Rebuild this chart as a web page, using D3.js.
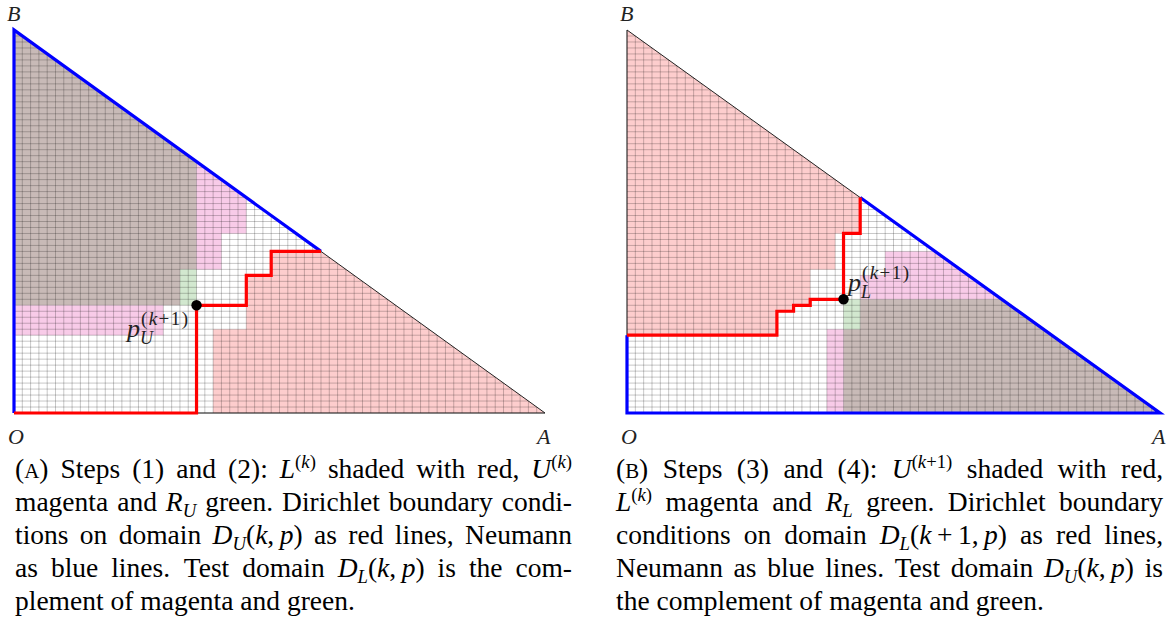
<!DOCTYPE html>
<html>
<head>
<meta charset="utf-8">
<script src="https://cdn.jsdelivr.net/npm/d3@7"></script>
<style>
  body { margin: 0; background: #fff; }
  text { font-family: "Liberation Serif", "Times New Roman", serif; }
</style>
</head>
<body>
<svg id="fig" width="1168" height="622"></svg>
<script>
// grid size: the triangle O-A-B is cut into 64 x 64 cells
var gridSize = 64;

// panel (A): steps (1) and (2)
var redFillA = [[[24, 0], [64, 0], [37, 27], [31, 27], [31, 23], [28, 23], [28, 14], [24, 14]]];
var brownFillA = [[[0, 18], [20, 18], [20, 24], [22, 24], [22, 42], [0, 64]]];
var magentaFillA = [[[22, 24], [25, 24], [25, 30], [28, 30], [28, 36], [22, 42]],
                    [[0, 13], [18, 13], [18, 18], [0, 18]]];
var greenFillA = [[[20, 18], [22, 18], [22, 24], [20, 24]]];
var dirichletA = [[0, 0], [22, 0], [22, 18], [28, 18], [28, 23], [31, 23], [31, 27], [37, 27]];
var neumannA = [[0, 0], [0, 64], [37, 27]];
var pointA = [22, 18];

// panel (B): steps (3) and (4)
var redFillB = [[[0, 13], [18, 13], [18, 17], [20, 17], [20, 18], [22, 18], [22, 24], [25, 24], [25, 30], [28, 30], [28, 36], [0, 64]]];
var brownFillB = [[[26, 0], [64, 0], [45, 19], [28, 19], [28, 14], [26, 14]]];
var magentaFillB = [[[28, 19], [45, 19], [37, 27], [31, 27], [31, 23], [28, 23]],
                    [[24, 0], [26, 0], [26, 14], [24, 14]]];
var greenFillB = [[[26, 14], [28, 14], [28, 19], [26, 19]]];
var dirichletB = [[0, 13], [18, 13], [18, 17], [20, 17], [20, 18], [22, 18], [22, 19], [26, 19], [26, 30], [28, 30], [28, 36]];
var neumannB = [[0, 13], [0, 0], [64, 0], [28, 36]];
var pointB = [26, 19];

// caption lines ($..$ = math, <..> = small caps)
var captionA = [
  "(<A>) Steps (1) and (2): $L^{(k)}$ shaded with red, $U^{(k)}$",
  "magenta and $R_{U}$ green. Dirichlet boundary condi-",
  "tions on domain $D_{U}(k,\u2009p)$ as red lines, Neumann",
  "as blue lines.\u2002Test domain $D_{L}(k,\u2009p)$ is the com-",
  "plement of magenta and green."
];
var captionB = [
  "(<B>) Steps (3) and (4): $U^{(k+1)}$ shaded with red,",
  "$L^{(k)}$ magenta and $R_{L}$ green. Dirichlet boundary",
  "conditions on domain $D_{L}(k\u2009+\u20091,\u2009p)$ as red lines,",
  "Neumann as blue lines. Test domain $D_{U}(k,\u2009p)$ is",
  "the complement of magenta and green."
];

var colors = { red: "#fdcdcd", brown: "#c8bab7", magenta: "#f8cbe8", green: "#d2e8cf" };

var panels = [
  { x0: 14, x1: 545, top: 30, bottom: 413,
    fills: [[redFillA, colors.red], [brownFillA, colors.brown], [magentaFillA, colors.magenta], [greenFillA, colors.green]],
    dirichlet: dirichletA, neumann: neumannA, point: pointA, sub: "U",
    pLabel: { x: 127, y: 337, supY: 325, subY: 344 },
    caption: captionA, capX0: 15, capX1: 572 },
  { x0: 627, x1: 1160, top: 30, bottom: 413,
    fills: [[redFillB, colors.red], [brownFillB, colors.brown], [magentaFillB, colors.magenta], [greenFillB, colors.green]],
    dirichlet: dirichletB, neumann: neumannB, point: pointB, sub: "L",
    pLabel: { x: 848, y: 291, supY: 279, subY: 298 },
    caption: captionB, capX0: 616, capX1: 1163 }
];

var svg = d3.select("#fig");

panels.forEach(function(p) {
  var x = d3.scaleLinear().domain([0, gridSize]).range([p.x0, p.x1]);
  var y = d3.scaleLinear().domain([0, gridSize]).range([p.bottom, p.top]);
  var line = d3.line().x(function(d) { return x(d[0]); }).y(function(d) { return y(d[1]); });
  var g = svg.append("g");

  // shaded sets
  p.fills.forEach(function(f) {
    g.selectAll(null).data(f[0]).enter().append("path")
      .attr("d", function(d) { return line(d) + "Z"; })
      .attr("fill", f[1]);
  });

  // grid cells, only inside the triangle
  var ticks = d3.range(0, gridSize + 1);
  g.selectAll(null).data(ticks).enter().append("line")
    .attr("x1", function(i) { return x(i); }).attr("x2", function(i) { return x(i); })
    .attr("y1", y(0)).attr("y2", function(i) { return y(gridSize - i); })
    .attr("stroke", "#000").attr("stroke-opacity", 0.22).attr("stroke-width", 1);
  g.selectAll(null).data(ticks).enter().append("line")
    .attr("y1", function(j) { return y(j); }).attr("y2", function(j) { return y(j); })
    .attr("x1", x(0)).attr("x2", function(j) { return x(gridSize - j); })
    .attr("stroke", "#000").attr("stroke-opacity", 0.22).attr("stroke-width", 1);

  // thin triangle outline
  g.append("path").attr("d", line([[0, 0], [gridSize, 0], [0, gridSize]]) + "Z")
    .attr("fill", "none").attr("stroke", "#222").attr("stroke-width", 1);

  // Neumann (blue) and Dirichlet (red) boundaries
  g.append("path").attr("d", line(p.neumann))
    .attr("fill", "none").attr("stroke", "#0000ff").attr("stroke-width", 3.2);
  g.append("path").attr("d", line(p.dirichlet))
    .attr("fill", "none").attr("stroke", "#ff0000").attr("stroke-width", 3.2);

  g.append("circle").attr("cx", x(p.point[0])).attr("cy", y(p.point[1])).attr("r", 5.2).attr("fill", "#000");

  // corner labels
  var corners = [["B", x(0) - 7, y(gridSize) - 9], ["O", x(0) - 6, y(0) + 31], ["A", x(gridSize) - 8, y(0) + 31]];
  g.selectAll(null).data(corners).enter().append("text")
    .attr("x", function(d) { return d[1]; }).attr("y", function(d) { return d[2]; })
    .attr("font-size", 22).attr("font-style", "italic").attr("fill", "#222")
    .text(function(d) { return d[0]; });

  // p^{(k+1)} label
  g.append("text").attr("x", p.pLabel.x).attr("y", p.pLabel.y)
    .attr("font-size", 26).attr("font-style", "italic").attr("fill", "#222").text("p");
  var sup = g.append("text").attr("x", p.pLabel.x + 14).attr("y", p.pLabel.supY)
    .attr("font-size", 19).attr("fill", "#222");
  sup.append("tspan").text("(");
  sup.append("tspan").attr("font-style", "italic").text("k");
  sup.append("tspan").text("+1)");
  sup.attr("textLength", 47).attr("lengthAdjust", "spacing");
  g.append("text").attr("x", p.pLabel.x + 13).attr("y", p.pLabel.subY)
    .attr("font-size", 18).attr("font-style", "italic").attr("fill", "#222").text(p.sub);

  drawCaption(g, p.caption, p.capX0, p.capX1, 478, 33);
});

function parseWord(w) {
  var segs = [], math = false, sc = false;
  for (var i = 0; i < w.length; i++) {
    var c = w[i];
    if (c === "$") { math = !math; continue; }
    if (c === "<") { sc = true; continue; }
    if (c === ">") { sc = false; continue; }
    if (math && (c === "^" || c === "_")) {
      var end = w.indexOf("}", i);
      var inner = w.slice(i + 2, end);
      for (var k = 0; k < inner.length; k++) {
        segs.push({ t: inner[k], lvl: c === "^" ? "sup" : "sub", it: /[a-zA-Z]/.test(inner[k]) });
      }
      i = end;
      continue;
    }
    segs.push({ t: c, lvl: "base", it: math && /[a-zA-Z]/.test(c), sc: sc });
  }
  return segs;
}

function drawCaption(g, lines, x0, x1, y0, lh) {
  var fs = 27.5;
  lines.forEach(function(str, li) {
    var y = y0 + li * lh;
    var words = str.split(" ");
    var nodes = words.map(function(w) {
      var t = g.append("text").attr("y", y).attr("font-size", fs);
      var off = 0;
      parseWord(w).forEach(function(s) {
        var target = s.lvl === "sup" ? -0.38 * fs : s.lvl === "sub" ? 0.2 * fs : 0;
        var size = s.lvl === "base" ? (s.sc ? fs * 0.76 : fs) : fs * 0.68;
        t.append("tspan").attr("dy", target - off).attr("font-size", size)
          .attr("font-style", s.it ? "italic" : "normal").text(s.t);
        off = target;
      });
      return t;
    });
    var widths = nodes.map(function(t) { return t.node().getComputedTextLength(); });
    var total = d3.sum(widths);
    var last = li === lines.length - 1;
    var gap = last ? fs * 0.25 : (x1 - x0 - total) / (words.length - 1);
    var cx = x0;
    nodes.forEach(function(t, i) {
      t.attr("x", cx);
      cx += widths[i] + gap;
    });
  });
}
</script>
</body>
</html>
